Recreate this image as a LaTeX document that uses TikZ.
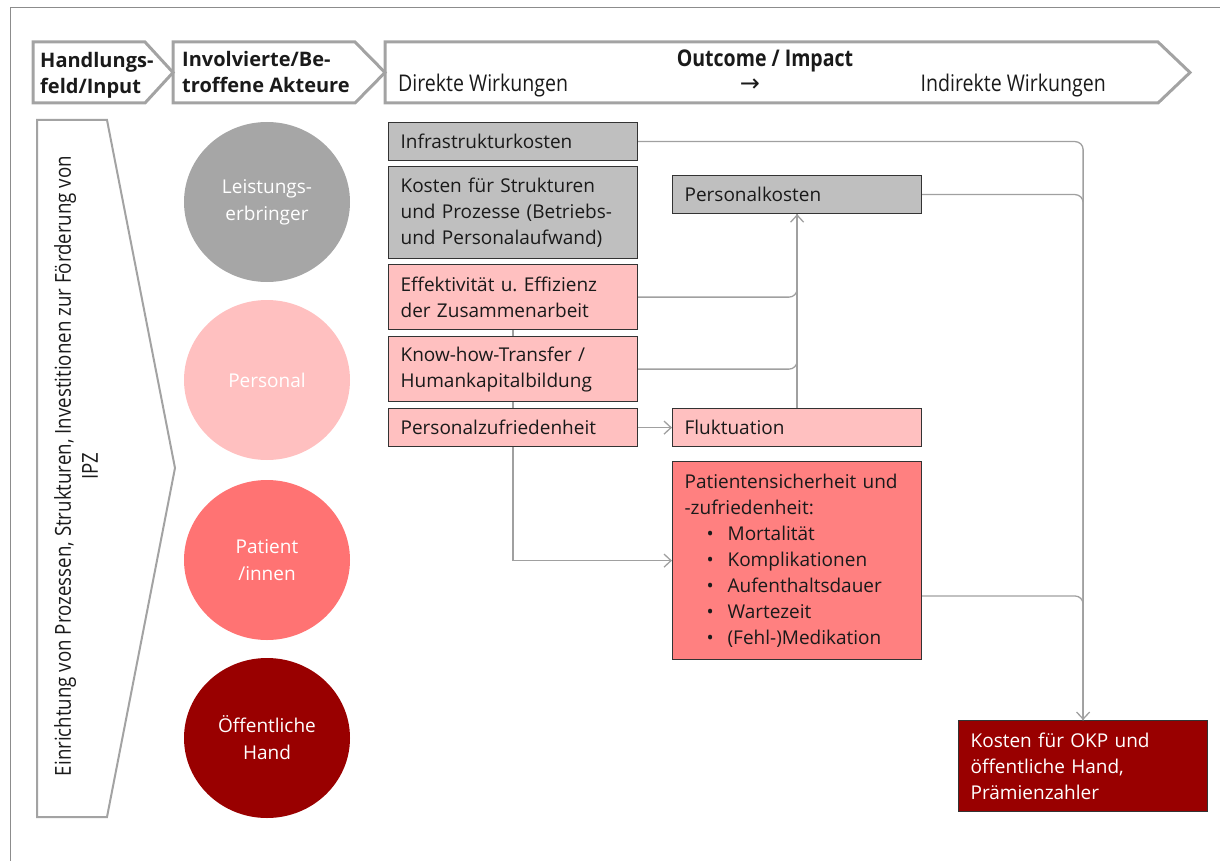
\documentclass[tikz,border=0pt]{standalone}
\usepackage{fontspec}
\setmainfont{Open Sans}
\newfontfamily\narrowfont[FakeStretch=0.85]{Open Sans}
\newfontfamily\symbfont{DejaVu Sans}
\usetikzlibrary{shapes.geometric, arrows.meta, backgrounds}
\frenchspacing

\definecolor{boxgray}{HTML}{BFBFBF}
\definecolor{circgray}{HTML}{A6A6A6}
\definecolor{lightred}{HTML}{FFC0C0}
\definecolor{boxred}{HTML}{FF8080}
\definecolor{circred}{HTML}{FF7373}
\definecolor{darkred}{HTML}{990000}
\definecolor{linegray}{HTML}{A0A0A0}
\definecolor{chevgray}{HTML}{A3A3A3}
\definecolor{framegray}{HTML}{8C8C8C}
\definecolor{edgegray}{HTML}{333333}
\definecolor{txtblack}{HTML}{1A1A1A}

\newcommand{\bulletrow}[1]{\hspace*{22pt}\makebox[21pt][l]{•}#1}

\begin{document}
\begin{tikzpicture}[x=1pt, y=-1pt,
  effectbox/.style={rectangle, draw=edgegray, line width=1.2pt, anchor=north west,
    text width=225pt, inner xsep=12pt, inner ysep=2pt, align=left, text=txtblack,
    font=\fontsize{19}{26}\selectfont},
  actor/.style={ellipse, minimum width=166pt, minimum height=160pt, inner sep=0pt,
    text=white, align=center, font=\fontsize{19}{27}\selectfont},
  chevline/.style={draw=chevgray, line width=3pt, line join=miter},
  headtext/.style={inner sep=0pt, align=left, text=txtblack},
  conn/.style={draw=linegray, line width=1.3pt, rounded corners=8pt},
  arrowconn/.style={-{Straight Barb[length=7pt,width=13pt]}}]
	\useasboundingbox (0,0) rectangle (1220,861);
	% frame
	\draw[framegray, line width=1pt] (10,861) -- (10,8) -- (1220,8);
	% header chevrons
	\draw[chevline] (33,42) -- (145,42) -- (173,72.5) -- (145,103) -- (33,103) -- cycle;
	\draw[chevline] (173,42) -- (355,42) -- (385,72.5) -- (355,103) -- (173,103) -- cycle;
	\draw[chevline] (385,42) -- (1158,42) -- (1190,72.5) -- (1158,103) -- (385,103) -- cycle;
	\node[headtext, anchor=west, font=\fontsize{20}{26}\selectfont\bfseries] (input) at (40,75) {Handlungs-\\feld/Input};
	\node[headtext, anchor=west, font=\fontsize{20}{26}\selectfont\bfseries] (akteure) at (182,72) {Involvierte/Be-\\troffene Akteure};
	\node[headtext, font=\narrowfont\fontsize{23}{26}\selectfont\bfseries] (outcome) at (765,61) {Outcome / Impact};
	\node[headtext, anchor=west, font=\narrowfont\fontsize{23}{26}\selectfont] (direkt) at (398,86) {Direkte Wirkungen};
	\node[headtext, font=\symbfont\fontsize{24}{26}\selectfont] (pfeil) at (750,85) {→};
	\node[headtext, anchor=east, font=\narrowfont\fontsize{23}{26}\selectfont] (indirekt) at (1106,86) {Indirekte Wirkungen};
	% left chevron
	\draw[chevline, line width=2pt] (37,120) -- (107,120) -- (175,468) -- (107,817) -- (37,817) -- cycle;
	\node[headtext, align=center, rotate=90, font=\narrowfont\fontsize{22}{27}\selectfont] (massnahme) at (76,466)
		{Einrichtung von Prozessen, Strukturen, Investitionen zur Förderung von\\IPZ};
	% actors
	\node[actor, fill=circgray] (leist) at (267,202) {Leistungs-\\erbringer};
	\node[actor, fill=lightred] (personal) at (267,380) {Personal};
	\node[actor, fill=circred] (patienten) at (267,560) {Patient\\/innen};
	\node[actor, fill=darkred] (hand) at (267,738) {Öffentliche\\Hand};
	% effects
	\node[effectbox, fill=boxgray, minimum height=38pt] (infra) at (388,122) {Infrastrukturkosten};
	\node[effectbox, fill=boxgray, minimum height=92pt] (kosten) at (388,166) {Kosten für Strukturen\\und Prozesse (Betriebs-\\und Personalaufwand)};
	\node[effectbox, fill=lightred, minimum height=65pt] (effekt) at (388,264) {Effektivität u. Effizienz\\der Zusammenarbeit};
	\node[effectbox, fill=lightred, minimum height=65pt] (knowhow) at (388,336) {Know-how-Transfer /\\Humankapitalbildung};
	\node[effectbox, fill=lightred, minimum height=38pt] (pzuf) at (388,408) {Personalzufriedenheit};
	\node[effectbox, fill=boxgray, minimum height=38pt] (perskost) at (672,175) {Personalkosten};
	\node[effectbox, fill=lightred, minimum height=38pt] (fluk) at (672,408) {Fluktuation};
	\node[effectbox, fill=boxred, minimum height=198pt] (patient) at (672,461)
		{Patientensicherheit und\\-zufriedenheit:\\\bulletrow{Mortalität}\\\bulletrow{Komplikationen}\\\bulletrow{Aufenthaltsdauer}\\\bulletrow{Wartezeit}\\\bulletrow{(Fehl-)Medikation}};
	\node[effectbox, fill=darkred, text=white, minimum height=91pt] (okp) at (958,720) {Kosten für OKP und\\öffentliche Hand,\\Prämienzahler};
	% connectors
	\begin{scope}[on background layer]
		\draw[conn, arrowconn, rounded corners=0pt] (effekt.south) |- (patient.west);
	\end{scope}
	\draw[conn, arrowconn] (pzuf.east) -- (fluk.west);
	\draw[conn, arrowconn] (fluk.north) -- (perskost.south);
	\draw[conn] (effekt.east) -| (perskost.south);
	\draw[conn] (knowhow.east) -| (perskost.south);
	\draw[conn, arrowconn] (infra.east) -| (okp.north);
	\draw[conn] (perskost.east) -| (okp.north);
	\draw[conn] (patient.east |- 0,596) -| (okp.north);
\end{tikzpicture}
\end{document}
